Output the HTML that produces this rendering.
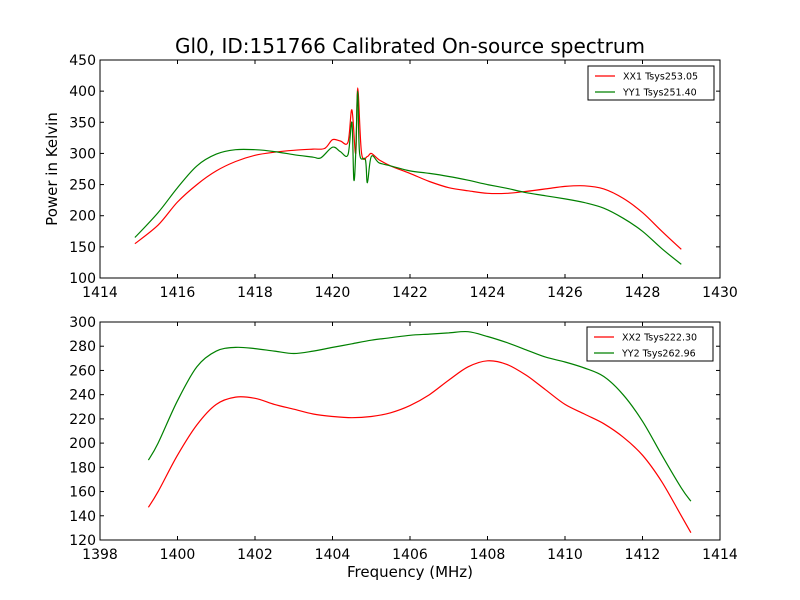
<!DOCTYPE html>
<html><head><meta charset="utf-8"><style>
body{margin:0;background:#fff;}
svg{display:block;font-family:"DejaVu Sans","Liberation Sans",sans-serif;}
</style></head><body>
<svg id="chart" width="800" height="600" viewBox="0 0 800 600">
<rect width="800" height="600" fill="#fff"/>
</svg>
<script>
// ---- data ----
const xx1Freq=[1414.9,1415.5,1416,1416.5,1417,1417.5,1418,1418.5,1419,1419.5,1419.8,1420,1420.2,1420.4,1420.5,1420.6,1420.65,1420.75,1420.9,1421,1421.2,1421.5,1422,1422.5,1423,1423.5,1424,1424.5,1425,1425.5,1426,1426.5,1427,1427.5,1428,1428.5,1429];
const xx1Vals=[155,185,222,250,272,287,297,302,305,307,308,322,320,318,370,300,405,300,295,300,290,280,268,255,245,240,236,236,239,243,247,248,243,228,205,175,146];
const yy1Freq=[1414.9,1415.5,1416,1416.5,1417,1417.5,1418,1418.5,1419,1419.5,1419.7,1420,1420.2,1420.4,1420.5,1420.55,1420.6,1420.65,1420.7,1420.85,1420.9,1421,1421.2,1421.5,1422,1422.5,1423,1423.5,1424,1424.5,1425,1425.5,1426,1426.5,1427,1427.5,1428,1428.5,1429];
const yy1Vals=[165,205,245,280,299,306,306,303,298,294,293,310,303,298,350,258,300,400,300,290,253,295,285,280,272,268,263,257,250,244,237,232,227,221,212,196,175,147,122];
const bFreq=[1399.25,1399.5,1400,1400.5,1401,1401.5,1402,1402.5,1403,1403.5,1404,1404.5,1405,1405.5,1406,1406.5,1407,1407.5,1408,1408.5,1409,1409.5,1410,1410.5,1411,1411.5,1412,1412.5,1413,1413.25];
const xx2Vals=[147,160,190,215,232,238,237,232,228,224,222,221,222,225,231,240,252,263,268,265,256,244,232,224,216,205,190,168,140,126];
const yy2Vals=[186,200,235,263,276,279,278,276,274,276,279,282,285,287,289,290,291,292,288,283,277,271,267,262,255,240,218,190,163,152];
const topXTicks=[1414,1416,1418,1420,1422,1424,1426,1428,1430];
const topYTicks=[100,150,200,250,300,350,400,450];
const botXTicks=[1398,1400,1402,1404,1406,1408,1410,1412,1414];
const botYTicks=[120,140,160,180,200,220,240,260,280,300];

const svg=document.getElementById('chart');
const NS='http://www.w3.org/2000/svg';
function el(tag,attrs,parent){const e=document.createElementNS(NS,tag);for(const k in attrs)e.setAttribute(k,attrs[k]);(parent||svg).appendChild(e);return e;}
function smooth(pts){
  let d='M'+pts[0][0].toFixed(1)+','+pts[0][1].toFixed(1);
  for(let i=0;i<pts.length-1;i++){
    const p0=pts[Math.max(0,i-1)],p1=pts[i],p2=pts[i+1],p3=pts[Math.min(pts.length-1,i+2)];
    const k=1/6;
    const c1=[p1[0]+(p2[0]-p0[0])*k,p1[1]+(p2[1]-p0[1])*k];
    const c2=[p2[0]-(p3[0]-p1[0])*k,p2[1]-(p3[1]-p1[1])*k];
    d+='C'+c1[0].toFixed(1)+','+c1[1].toFixed(1)+' '+c2[0].toFixed(1)+','+c2[1].toFixed(1)+' '+p2[0].toFixed(1)+','+p2[1].toFixed(1);
  }
  return d;
}

function panel(name,box,xd,yd,xt,yt,series,legend){
  const g=el('g',{});
  
  
  const sx=v=>box.x+(v-xd[0])/(xd[1]-xd[0])*box.w;
  const sy=v=>box.y+box.h-(v-yd[0])/(yd[1]-yd[0])*box.h;
  series.forEach(s=>{
    const pts=s.f.map((f,i)=>[sx(f),sy(s.v[i])]);
    const p=el('path',{d:smooth(pts),fill:'none',stroke:s.c,'stroke-width':1.2},g);
    
    
  });
  const fr=el('rect',{x:box.x,y:box.y,width:box.w,height:box.h,fill:'none',stroke:'#000','stroke-width':1},g);
  
  
  xt.forEach(t=>{
    const x=sx(t);
    el('line',{x1:x,x2:x,y1:box.y+box.h,y2:box.y+box.h-4,stroke:'#000'},g);
    el('line',{x1:x,x2:x,y1:box.y,y2:box.y+4,stroke:'#000'},g);
    const tx=el('text',{x:x,y:box.y+box.h+19,'text-anchor':'middle','font-size':14},g);
    tx.textContent=t;
    
    
  });
  yt.forEach(t=>{
    const y=sy(t);
    el('line',{x1:box.x,x2:box.x+4,y1:y,y2:y,stroke:'#000'},g);
    el('line',{x1:box.x+box.w,x2:box.x+box.w-4,y1:y,y2:y,stroke:'#000'},g);
    const tx=el('text',{x:box.x-4,y:y+5,'text-anchor':'end','font-size':14},g);
    tx.textContent=t;
    
    
  });
  const lg=el('g',{},g);
  
  
  el('rect',{x:legend.x,y:legend.y,width:126,height:34,fill:'#fff',stroke:'#000'},lg);
  series.forEach((s,i)=>{
    const y=legend.y+10+i*16;
    el('line',{x1:legend.x+7,x2:legend.x+27,y1:y,y2:y,stroke:s.c,'stroke-width':1.2},lg);
    const t=el('text',{x:legend.x+35,y:y+3.5,'font-size':9.5},lg);
    t.textContent=s.label;
    
    
  });
}
panel('top-panel',{x:100,y:60,w:620,h:218},[1414,1430],[100,450],topXTicks,topYTicks,
 [{f:xx1Freq,v:xx1Vals,c:'#ff0000',label:'XX1 Tsys253.05',name:'xx1-line'},
  {f:yy1Freq,v:yy1Vals,c:'#008000',label:'YY1 Tsys251.40',name:'yy1-line'}],{x:588,y:66});
panel('bottom-panel',{x:100,y:322,w:620,h:218},[1398,1414],[120,300],botXTicks,botYTicks,
 [{f:bFreq,v:xx2Vals,c:'#ff0000',label:'XX2 Tsys222.30',name:'xx2-line'},
  {f:bFreq,v:yy2Vals,c:'#008000',label:'YY2 Tsys262.96',name:'yy2-line'}],{x:587,y:327});

let t=el('text',{x:410,y:53,'text-anchor':'middle','font-size':20});
t.textContent='Gl0, ID:151766 Calibrated On-source spectrum';


t=el('text',{x:410,y:577,'text-anchor':'middle','font-size':15});
t.textContent='Frequency (MHz)';


t=el('text',{x:57,y:169,'text-anchor':'middle','font-size':15,transform:'rotate(-90 57 169)'});
t.textContent='Power in Kelvin';


</script>
</body></html>
